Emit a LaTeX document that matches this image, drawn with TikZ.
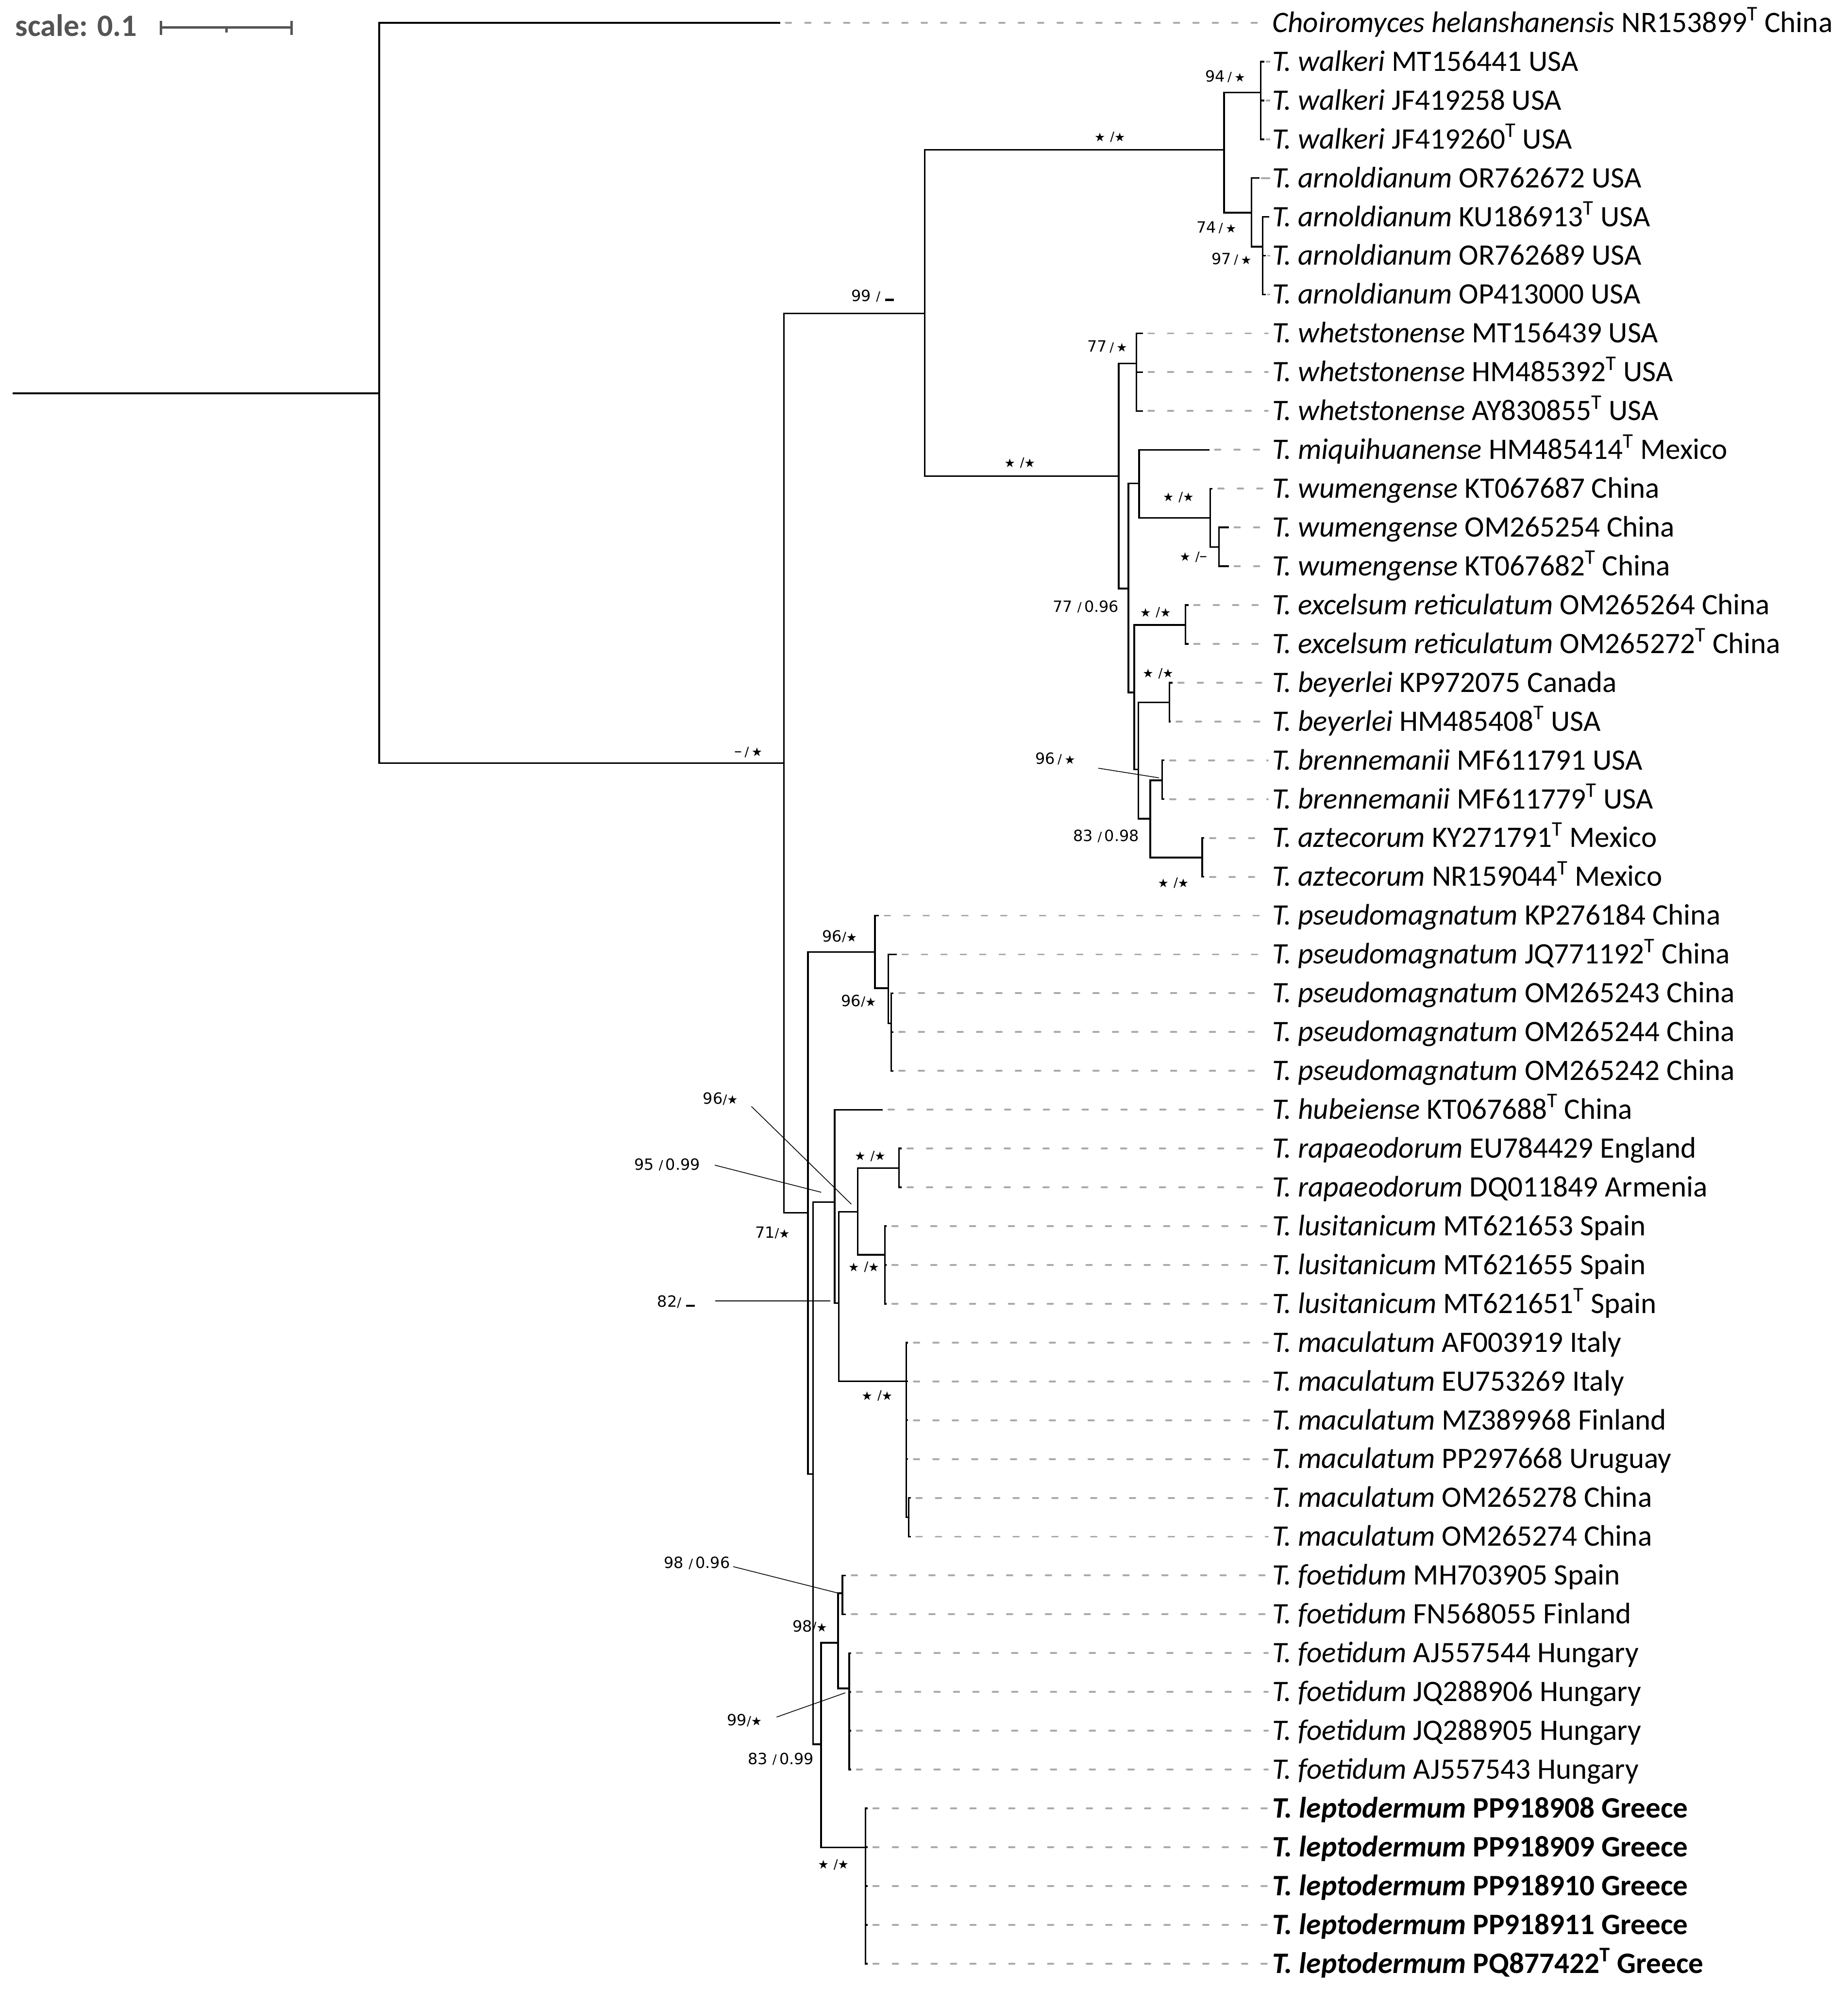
\documentclass[tikz,border=0pt]{standalone}
\usepackage{fontspec}
\setmainfont{Carlito}
\newfontfamily\djv{DejaVu Sans}
\usetikzlibrary{calc}
\definecolor{dashgrey}{HTML}{ABABAB}
\definecolor{scalegrey}{HTML}{545454}
\newcommand\typeT{\textsuperscript{T}}
\newcommand\sstar{{\fontsize{9.5}{9.5}\selectfont ★}}
\newcommand\sls{\raisebox{0.02em}{\scalebox{0.82}{/}}}
\newcommand\ndash{–}
\newcommand\lowbar{\rule[0.02em]{0.55em}{0.14em}}
\newcommand\mktip[4]{\coordinate (t#1) at (#2,#3);
  \node[lab] (l#1) at (1003,#3+7.4) {#4};}
\newcommand\dtip[1]{\draw[tipdash] (t#1) -- (t#1 -| l#1.west);}
\newcommand\gtip[1]{\draw[tipgrey] (t#1) -- (t#1 -| l#1.west);}
\newcommand\supp[4]{\node[supl] (#1) at (#2,#3+4.4) {#4};}
\begin{document}
\begin{tikzpicture}[x=1pt,y=-1pt,
  br/.style={line width=1.3pt},
  tipdash/.style={draw=dashgrey,line width=1.5pt,line cap=round,dash pattern=on 4.2pt off 11.1pt,shorten <=4.5pt,shorten >=3.5pt},
  tipgrey/.style={draw=dashgrey,line width=1.4pt,shorten <=1pt,shorten >=1.5pt},
  lab/.style={anchor=base west,inner sep=0pt,font=\fontsize{23.4}{23.4}\selectfont},
  supl/.style={anchor=base,inner sep=0pt,font=\djv\fontsize{12.2}{12.2}\selectfont},
  lead/.style={line width=0.6pt},
  scalebar/.style={draw=scalegrey,line width=1.8pt}]
\useasboundingbox (0,0) rectangle (1456.6,1568);

% scale bar
\node[anchor=base west,inner sep=0pt,text=scalegrey,font=\bfseries\fontsize{24.5}{24.5}\selectfont] (scl) at (12,28.5) {scale: 0.1};
\coordinate (sbA) at (127,21.5);
\coordinate (sbB) at (230,21.5);
\coordinate (sbM) at (178.5,21.5);
\draw[scalebar] (sbA) -- (sbB);
\draw[scalebar] ($(sbA)+(0,-5)$) -- ($(sbA)+(0,6)$);
\draw[scalebar] ($(sbB)+(0,-5)$) -- ($(sbB)+(0,6)$);
\draw[scalebar] (sbM) -- ($(sbM)+(0,4)$);

% internal nodes
\coordinate (r0) at (10,310);
\coordinate (n0) at (299,310);
\coordinate (n1) at (618,601.5);
\coordinate (n2) at (729,247);
\coordinate (n3) at (637,956);
\coordinate (n4) at (965,118);
\coordinate (n5) at (882,375.3);
\coordinate (n6) at (994,73);
\coordinate (n7) at (986.7,167.6);
\coordinate (n8) at (995.6,194.4);
\coordinate (n9) at (896,286.6);
\coordinate (n10) at (889.6,464);
\coordinate (n11) at (898,381.1);
\coordinate (n12) at (894.3,545.9);
\coordinate (n13) at (954.1,408.3);
\coordinate (n14) at (961.1,431.2);
\coordinate (n15) at (934.7,492.6);
\coordinate (n16) at (897.4,606.5);
\coordinate (n17) at (922.1,553.8);
\coordinate (n18) at (906.9,645.4);
\coordinate (n19) at (916.3,615.2);
\coordinate (n20) at (947.9,676.1);
\coordinate (n21) at (689.8,750.5);
\coordinate (n22) at (641,1162);
\coordinate (n23) at (700.3,779);
\coordinate (n24) at (702.7,806.8);
\coordinate (n25) at (658,947.6);
\coordinate (n26) at (647.4,1375);
\coordinate (n27) at (661.3,1027.3);
\coordinate (n28) at (676.2,955.2);
\coordinate (n29) at (714.5,1089);
\coordinate (n30) at (708.8,920.9);
\coordinate (n31) at (697.6,989.1);
\coordinate (n32) at (716.5,1196);
\coordinate (n33) at (660.8,1295);
\coordinate (n34) at (682.3,1456.5);
\coordinate (n35) at (664.1,1256);
\coordinate (n36) at (669.6,1331);

% tips
\mktip{1}{615}{18}{\textit{Choiromyces helanshanensis} NR153899\typeT{} China}
\mktip{2}{997}{48.6}{\textit{T. walkeri} MT156441 USA}
\mktip{3}{997}{79.2}{\textit{T. walkeri} JF419258 USA}
\mktip{4}{997}{109.8}{\textit{T. walkeri} JF419260\typeT{} USA}
\mktip{5}{993}{140.4}{\textit{T. arnoldianum} OR762672 USA}
\mktip{6}{1000.5}{171}{\textit{T. arnoldianum} KU186913\typeT{} USA}
\mktip{7}{998}{201.6}{\textit{T. arnoldianum} OR762689 USA}
\mktip{8}{998}{232.2}{\textit{T. arnoldianum} OP413000 USA}
\mktip{9}{901}{262.8}{\textit{T. whetstonense} MT156439 USA}
\mktip{10}{901}{293.4}{\textit{T. whetstonense} HM485392\typeT{} USA}
\mktip{11}{901}{324}{\textit{T. whetstonense} AY830855\typeT{} USA}
\mktip{12}{953.4}{354.6}{\textit{T. miquihuanense} HM485414\typeT{} Mexico}
\mktip{13}{956}{385.2}{\textit{T. wumengense} KT067687 China}
\mktip{14}{968.8}{415.8}{\textit{T. wumengense} OM265254 China}
\mktip{15}{968.8}{446.4}{\textit{T. wumengense} KT067682\typeT{} China}
\mktip{16}{937}{477}{\textit{T. excelsum reticulatum} OM265264 China}
\mktip{17}{937}{507.6}{\textit{T. excelsum reticulatum} OM265272\typeT{} China}
\mktip{18}{924.5}{538.2}{\textit{T. beyerlei} KP972075 Canada}
\mktip{19}{923}{568.8}{\textit{T. beyerlei} HM485408\typeT{} USA}
\mktip{20}{918}{599.4}{\textit{T. brennemanii} MF611791 USA}
\mktip{21}{918}{630}{\textit{T. brennemanii} MF611779\typeT{} USA}
\mktip{22}{949.5}{660.6}{\textit{T. aztecorum} KY271791\typeT{} Mexico}
\mktip{23}{949.5}{691.2}{\textit{T. aztecorum} NR159044\typeT{} Mexico}
\mktip{24}{693}{721.8}{\textit{T. pseudomagnatum} KP276184 China}
\mktip{25}{707}{752.4}{\textit{T. pseudomagnatum} JQ771192\typeT{} China}
\mktip{26}{704.5}{783}{\textit{T. pseudomagnatum} OM265243 China}
\mktip{27}{704.5}{813.6}{\textit{T. pseudomagnatum} OM265244 China}
\mktip{28}{704.5}{844.2}{\textit{T. pseudomagnatum} OM265242 China}
\mktip{29}{696}{874.8}{\textit{T. hubeiense} KT067688\typeT{} China}
\mktip{30}{711}{905.4}{\textit{T. rapaeodorum} EU784429 England}
\mktip{31}{711}{936}{\textit{T. rapaeodorum} DQ011849 Armenia}
\mktip{32}{699}{966.6}{\textit{T. lusitanicum} MT621653 Spain}
\mktip{33}{699}{997.2}{\textit{T. lusitanicum} MT621655 Spain}
\mktip{34}{699}{1027.8}{\textit{T. lusitanicum} MT621651\typeT{} Spain}
\mktip{35}{716}{1058.4}{\textit{T. maculatum} AF003919 Italy}
\mktip{36}{716}{1089}{\textit{T. maculatum} EU753269 Italy}
\mktip{37}{716}{1119.6}{\textit{T. maculatum} MZ389968 Finland}
\mktip{38}{716}{1150.2}{\textit{T. maculatum} PP297668 Uruguay}
\mktip{39}{718}{1180.8}{\textit{T. maculatum} OM265278 China}
\mktip{40}{718}{1211.4}{\textit{T. maculatum} OM265274 China}
\mktip{41}{667}{1242}{\textit{T. foetidum} MH703905 Spain}
\mktip{42}{667}{1272.6}{\textit{T. foetidum} FN568055 Finland}
\mktip{43}{671}{1303.2}{\textit{T. foetidum} AJ557544 Hungary}
\mktip{44}{671}{1333.8}{\textit{T. foetidum} JQ288906 Hungary}
\mktip{45}{671}{1364.4}{\textit{T. foetidum} JQ288905 Hungary}
\mktip{46}{671}{1395}{\textit{T. foetidum} AJ557543 Hungary}
\mktip{47}{684}{1425.6}{\textbf{\textit{T. leptodermum} PP918908 Greece}}
\mktip{48}{684}{1456.2}{\textbf{\textit{T. leptodermum} PP918909 Greece}}
\mktip{49}{684}{1486.8}{\textbf{\textit{T. leptodermum} PP918910 Greece}}
\mktip{50}{684}{1517.4}{\textbf{\textit{T. leptodermum} PP918911 Greece}}
\mktip{51}{684}{1548}{\textbf{\textit{T. leptodermum} PQ877422\typeT{} Greece}}

% dashed tip extensions
\foreach \k in {1,9,10,11,12,13,14,15,16,17,18,19,20,21,22,23,24,25,26,27,28,29,30,31,32,33,34,35,36,37,38,39,40,41,42,43,44,45,46,47,48,49,50,51} {\dtip{\k}}
\foreach \k in {2,3,4,5,7,8} {\gtip{\k}}

% branches
\draw[br] (r0) -- (n0);
\foreach \p/\c in {n0/t1,n0/n1,n1/n2,n1/n3,n2/n4,n2/n5,n4/n6,n4/n7,
  n6/t2,n6/t3,n6/t4,n7/t5,n7/n8,n8/t6,n8/t7,n8/t8,
  n5/n9,n5/n10,n9/t9,n9/t10,n9/t11,n10/n11,n10/n12,n11/t12,n11/n13,
  n13/t13,n13/n14,n14/t14,n14/t15,n12/n15,n12/n16,n15/t16,n15/t17,
  n16/n17,n16/n18,n17/t18,n17/t19,n18/n19,n18/n20,n19/t20,n19/t21,n20/t22,n20/t23,
  n3/n21,n3/n22,n21/t24,n21/n23,n23/t25,n23/n24,n24/t26,n24/t27,n24/t28,
  n22/n25,n22/n26,n25/t29,n25/n27,n27/n28,n27/n29,n28/n30,n28/n31,
  n30/t30,n30/t31,n31/t32,n31/t33,n31/t34,
  n29/t35,n29/t36,n29/t37,n29/t38,n29/n32,n32/t39,n32/t40,
  n26/n33,n26/n34,n33/n35,n33/n36,n35/t41,n35/t42,
  n36/t43,n36/t44,n36/t45,n36/t46,
  n34/t47,n34/t48,n34/t49,n34/t50,n34/t51}
  {\draw[br] (\p) |- (\c);}

% support values
\supp{s1}{590}{592}{\ndash\,\sls\,\sstar}
\supp{s2}{688}{233}{99 \sls\ \lowbar}
\supp{s3}{875}{107}{\sstar\ \sls\sstar}
\supp{s4}{966}{60}{94\,\sls\,\sstar}
\supp{s5}{959}{179}{74\,\sls\,\sstar}
\supp{s6}{971}{204}{97\,\sls\,\sstar}
\supp{s7}{804}{364}{\sstar\ \sls\sstar}
\supp{s8}{873}{273}{77\,\sls\,\sstar}
\supp{s9}{929}{391}{\sstar\ \sls\sstar}
\supp{s10}{941}{438}{\sstar\ \sls\ndash}
\supp{s11}{856}{478}{77 \sls\,0.96}
\supp{s12}{911}{482}{\sstar\ \sls\sstar}
\supp{s13}{913}{530}{\sstar\ \sls\sstar}
\supp{s14}{832}{598}{96\,\sls\,\sstar}
\supp{s15}{872}{659}{83 \sls\,0.98}
\supp{s16}{925}{695}{\sstar\ \sls\sstar}
\supp{s17}{662}{738}{96\sls\sstar}
\supp{s18}{677}{789}{96\sls\sstar}
\supp{s19}{568}{866}{96\sls\sstar}
\supp{s20}{526}{918}{95 \sls\,0.99}
\supp{s21}{686}{910.5}{\sstar\ \sls\sstar}
\supp{s22}{609}{971.5}{71\sls\sstar}
\supp{s23}{681}{998}{\sstar\ \sls\sstar}
\supp{s24}{533}{1026}{82\sls\ \lowbar}
\supp{s25}{691.5}{1099.4}{\sstar\ \sls\sstar}
\supp{s26}{549.5}{1232}{98 \sls\,0.96}
\supp{s27}{638.5}{1282}{98\sls\sstar}
\supp{s28}{587}{1356}{99\sls\sstar}
\supp{s29}{615.6}{1386.5}{83 \sls\,0.99}
\supp{s30}{657}{1469}{\sstar\ \sls\sstar}

% leader lines
\coordinate (a14) at (866,605.6);   \coordinate (b14) at (913.8,613.2);
\coordinate (a19) at (592.4,872.2); \coordinate (b19) at (671.2,949.3);
\coordinate (a20) at (563.5,918.5); \coordinate (b20) at (647.4,939.9);
\coordinate (a24) at (564,1025.6);  \coordinate (b24) at (654.5,1025.6);
\coordinate (a26) at (578,1235);    \coordinate (b26) at (662.4,1256.3);
\coordinate (a28) at (612.3,1353.6); \coordinate (b28) at (666.4,1334.5);
\foreach \k in {14,19,20,24,26,28} {\draw[lead] (a\k) -- (b\k);}
\end{tikzpicture}
\end{document}
